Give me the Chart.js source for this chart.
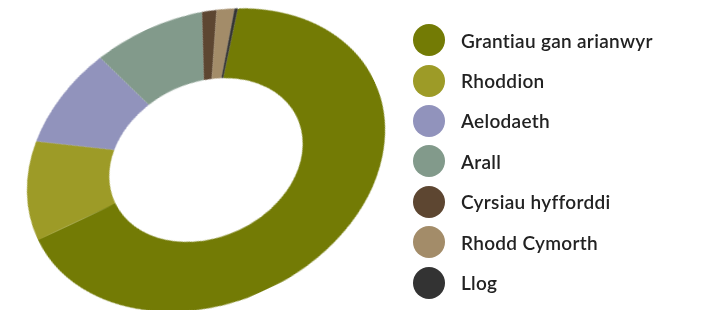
<!DOCTYPE html>
<html>
<head>
<meta charset="utf-8">
<script src="https://cdn.jsdelivr.net/npm/chart.js@4/dist/chart.umd.min.js"></script>
<style>
  html, body { margin: 0; padding: 0; background: #fff; }
  body { width: 704px; height: 310px; position: relative; overflow: hidden; }
  /* the ring is drawn flat, then tilted to look like the original perspective view */
  #ring {
    position: absolute;
    left: 20px; top: -26px;
    width: 372px; height: 372px;
    transform-origin: 50% 50%;
    transform: rotate(-25deg) scale(1, 0.77);
  }
  #legend {
    position: absolute; left: 413px; top: 20px;
    list-style: none; margin: 0; padding: 0;
    font-family: Lato, "Open Sans", sans-serif;
    font-size: 19px; font-weight: 600; color: #222;
    letter-spacing: 0.3px;
  }
  #legend li { height: 40.4px; display: flex; align-items: center; }
  #legend .dot { width: 32px; height: 32px; border-radius: 50%; margin-right: 16px; }
</style>
</head>
<body>
<div id="ring"><canvas id="pie" width="372" height="372"></canvas></div>
<ul id="legend"></ul>
<script>
const labels = ['Grantiau gan arianwyr', 'Rhoddion', 'Aelodaeth', 'Arall', 'Cyrsiau hyfforddi', 'Rhodd Cymorth', 'Llog'];
const shares = [66.5, 10.8, 9.8, 9.7, 1.3, 1.6, 0.3];
const colours = ['#737b05', '#9d9b27', '#9193bc', '#829a8b', '#5d4631', '#a38c69', '#333333'];

// Legend as html so it is not tilted with the ring
const legend = document.getElementById('legend');
labels.forEach((name, i) => {
    const li = document.createElement('li');
    li.innerHTML = '<span class="dot" style="background:' + colours[i] + '"></span>' + name;
    legend.appendChild(li);
});

new Chart(document.getElementById('pie'), {
    type: 'doughnut',
    data: {
        labels: labels,
        datasets: [{
            data: shares,
            backgroundColor: colours,
            borderWidth: 0
        }]
    },
    options: {
        responsive: false,
        animation: false,
        rotation: 30,
        cutout: '54%',
        layout: { padding: 0 },
        plugins: {
            legend: { display: false },
            tooltip: { enabled: false }
        }
    }
});
</script>
</body>
</html>
